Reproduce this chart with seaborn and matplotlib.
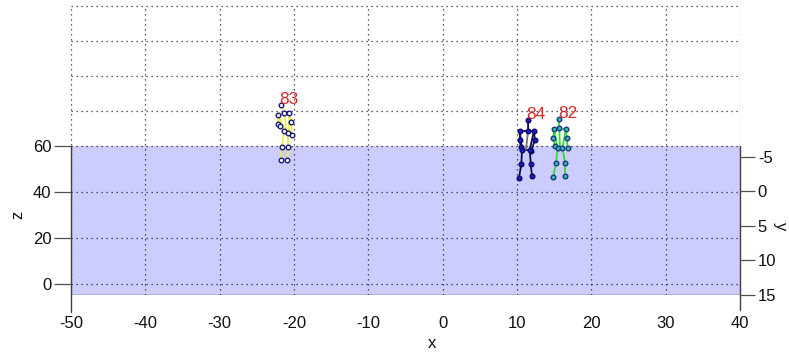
import matplotlib
matplotlib.use("Agg")
import matplotlib.pyplot as plt
import seaborn as sns
import pandas as pd

# ---- axes values ----
x_ticks = [-50, -40, -30, -20, -10, 0, 10, 20, 30, 40]
z_ticks = [0, 20, 40, 60]
y_ticks = [-5, 0, 5, 10, 15]

x_lim = (-50, 40)
z_lim = (-4.8, 123.5)
y_lim = (15, -27.75)          # right-hand depth axis, increasing downward
floor_z = (-4.8, 60)          # shaded volume below the top plane
top_face_scale = 3.05         # z-units per y-unit on the receding top plane

# ---- tracked skeletons (joint order: head, neck, l/r shoulder, l/r elbow,
#      l/r wrist, l/r hip, l/r knee, l/r ankle) ----
ids = ["83", "84", "82"]

s83_x = [-21.75, -21.3, -22.11, -20.63, -22.19, -20.40, -21.88, -20.31,
         -21.3, -20.77, -21.65, -20.77, -21.79, -20.9]
s83_z = [77.8, 74.3, 73.5, 74.5, 69.4, 70.6, 68.7, 65.0,
         66.5, 65.5, 59.7, 59.7, 53.9, 53.9]

s84_x = [11.48, 11.5, 10.37, 12.29, 10.37, 12.39, 10.50, 11.93,
         10.68, 11.71, 10.58, 11.85, 10.27, 12.02]
s84_z = [71.4, 66.65, 66.65, 66.65, 62.74, 62.74, 59.43, 57.7,
         58.4, 58.4, 52.2, 52.2, 46.1, 46.8]

s82_x = [15.69, 15.69, 14.98, 16.55, 14.89, 16.69, 15.11, 16.82,
         15.45, 16.12, 15.25, 16.46, 14.89, 16.46]
s82_z = [71.74, 67.7, 67.26, 67.26, 63.35, 63.35, 60.0, 59.0,
         59.0, 59.0, 52.7, 52.7, 46.65, 46.96]

bones = [(0, 1), (2, 3), (2, 4), (4, 6), (3, 5), (5, 7), (2, 8), (3, 9),
         (8, 9), (8, 10), (10, 12), (9, 11), (11, 13)]

styles = {
    "83": dict(line="#eeee44", spine="#eeee44", face="#f6f6f0", edge="#1a1a80"),
    "84": dict(line="#0a0a50", spine="#707070", face="#1a1ad0", edge="#0a0a60"),
    "82": dict(line="#33dd33", spine="#33dd33", face="#33b8b0", edge="#1a3a80"),
}

frames = []
for sid, xs, zs in zip(ids, [s83_x, s84_x, s82_x], [s83_z, s84_z, s82_z]):
    frames.append(pd.DataFrame({"id": sid, "joint": range(len(xs)), "x": xs, "z": zs}))
joints = pd.concat(frames, ignore_index=True)

sns.set_style("white")
plt.rcParams["font.family"] = ["Liberation Sans", "DejaVu Sans"]
plt.rcParams["axes.unicode_minus"] = False

fig = plt.figure(figsize=(7.89, 3.54), dpi=100)
ax = fig.add_axes([71 / 789, 1 - 295 / 354, 669 / 789, 295 / 354])
ax.set_xlim(*x_lim)
ax.set_ylim(*z_lim)
for sp in ax.spines.values():
    sp.set_visible(False)

grid_kw = dict(color="#2a2a2a", linestyle=(0, (1, 3)), linewidth=0.9, zorder=1)

# shaded volume
ax.fill_between(x_lim, floor_z[0], floor_z[1], color="#ccccff", zorder=0,
                linewidth=0)
ax.plot(x_lim, [floor_z[0]] * 2, color="#505050", linewidth=1.0, zorder=2)

# grid on the front plane
for xv in x_ticks:
    ax.plot([xv, xv], [floor_z[0], z_lim[1] - 2.2], **grid_kw)
for zv in z_ticks:
    ax.plot(x_lim, [zv, zv], **grid_kw)
# grid on the receding top plane
for yv in y_ticks[1:]:
    zt = floor_z[1] + (yv - y_ticks[0]) * top_face_scale
    ax.plot(x_lim, [zt, zt], **grid_kw)

# solid axis edges below the top plane
edge_top = (60 - z_lim[0]) / (z_lim[1] - z_lim[0])
ax.plot([0, 0], [-0.058, edge_top], transform=ax.transAxes, color="#404040",
        linewidth=1.0, clip_on=False, zorder=2)
ax.plot([1, 1], [-0.051, edge_top], transform=ax.transAxes, color="#404040",
        linewidth=1.0, clip_on=False, zorder=2)

# skeleton bones
for sid in ids:
    d = joints[joints["id"] == sid].reset_index(drop=True)
    st = styles[sid]
    for a, b in bones:
        ax.plot([d.x[a], d.x[b]], [d.z[a], d.z[b]], color=st["line"],
                linewidth=1.3, zorder=3)
    hip_x = (d.x[8] + d.x[9]) / 2
    hip_z = (d.z[8] + d.z[9]) / 2
    ax.plot([d.x[1], hip_x], [d.z[1], hip_z], color=st["spine"],
            linewidth=1.3, zorder=3)

# joints
for sid in ids:
    st = styles[sid]
    sns.scatterplot(data=joints[joints["id"] == sid], x="x", y="z", ax=ax,
                    color=st["face"], edgecolor=st["edge"], linewidth=1.0,
                    s=11, zorder=4, legend=False)

# id labels at the head
for sid in ids:
    d = joints[(joints["id"] == sid) & (joints["joint"] == 0)].iloc[0]
    ax.annotate(sid, (d.x, d.z), xytext=(-1, -1.5), textcoords="offset points",
                ha="left", va="bottom", color="#d42a2a", fontsize=12.5, zorder=5)

# ticks
ax.set_xticks(x_ticks)
ax.set_yticks(z_ticks)
ax.tick_params(axis="both", direction="out", length=12.2, width=0.9,
               color="#505050", labelsize=12, labelcolor="#111111")
ax.tick_params(axis="x", pad=3)
ax.tick_params(axis="y", pad=2)
ax.set_xlabel("")
ax.set_ylabel("")

ax2 = ax.twinx()
ax2.set_ylim(*y_lim)
ax2.set_yticks(y_ticks)
for sp in ax2.spines.values():
    sp.set_visible(False)
ax2.tick_params(axis="y", direction="out", length=10.8, width=0.9,
                color="#505050", labelsize=12, labelcolor="#111111", pad=2)
ax2.grid(False)
ax.grid(False)

ax.text(0.54, -0.163, "x", transform=ax.transAxes, ha="center", va="center",
        fontsize=12, color="#111111")
ax.text(-0.0792, 0.271, "z", transform=ax.transAxes, ha="center", va="center",
        fontsize=12, color="#111111", rotation=90)
ax.text(1.06, 0.234, "y", transform=ax.transAxes, ha="center", va="center",
        fontsize=12, color="#111111", rotation=270)

fig.savefig("out.png", dpi=100)
